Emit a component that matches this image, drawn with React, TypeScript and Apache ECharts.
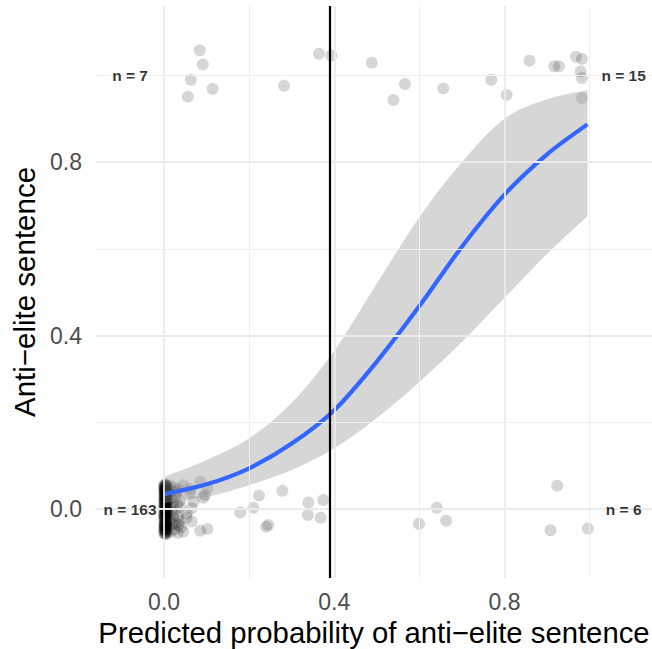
import React, { useEffect, useRef } from "react";
import * as echarts from "echarts";

// ---- data ----
const xTickValues = [0, 0.4, 0.8];
const yTickValues = [0, 0.4, 0.8];
const xMajorGrid = [0, 0.4, 0.8];
const xMinorGrid = [0.2, 0.6, 1.0];
const yMajorGrid = [0, 0.4, 0.8];
const yMinorGrid = [0.2, 0.6, 1.0];

const threshold = 0.39;

const fitX = [0, 0.1, 0.2, 0.3, 0.4, 0.5, 0.6, 0.7, 0.8, 0.9, 0.995];
const fitY = [0.034, 0.057, 0.094, 0.151, 0.228, 0.34, 0.468, 0.605, 0.725, 0.818, 0.887];
const fitUpper = [0.074, 0.113, 0.163, 0.245, 0.365, 0.52, 0.673, 0.8, 0.9, 0.945, 0.966];
const fitLower = [0.014, 0.028, 0.055, 0.09, 0.14, 0.21, 0.293, 0.385, 0.487, 0.588, 0.675];

// jittered observations: anti-elite = 1, predicted < threshold
const topLeft = [
  [0.084, 1.058], [0.091, 1.025], [0.063, 0.99], [0.114, 0.969], [0.056, 0.951],
  [0.282, 0.976], [0.364, 1.05],
];
// anti-elite = 1, predicted >= threshold
const topRight = [
  [0.393, 1.046], [0.488, 1.029], [0.566, 0.98], [0.539, 0.943], [0.656, 0.97],
  [0.769, 0.99], [0.805, 0.955], [0.859, 1.034], [0.917, 1.021], [0.928, 1.021],
  [0.968, 1.043], [0.982, 1.038], [0.979, 1.009], [0.982, 0.994], [0.982, 0.948],
];
// anti-elite = 0, predicted >= threshold
const bottomRight = [
  [0.641, 0.003], [0.599, -0.034], [0.663, -0.027], [0.924, 0.054], [0.908, -0.049], [0.996, -0.045],
];
// anti-elite = 0, predicted < threshold: dense cluster at ~0
const bottomLeftCore = [
  [0.001, 0.051], [0.002, 0.032], [0.001, 0.012], [0.0, -0.008], [0.002, -0.027], [0.001, -0.046],
  [0.003, 0.043], [0.003, 0.021], [0.002, 0.002], [0.003, -0.018], [0.002, -0.037], [0.004, -0.055],
  [0.004, 0.056], [0.003, 0.038], [0.004, 0.017], [0.004, -0.004], [0.003, -0.022], [0.004, -0.041],
  [0.005, 0.047], [0.005, 0.027], [0.005, 0.008], [0.005, -0.013], [0.005, -0.031], [0.005, -0.051],
  [0.0, 0.025], [0.001, -0.017], [0.002, 0.057], [0.002, -0.058], [0.001, 0.04], [0.0, -0.035],
  [0.002, 0.008], [0.002, -0.006], [0.003, 0.029], [0.003, -0.03], [0.003, -0.045], [0.004, 0.05],
  [0.006, 0.036], [0.006, 0.015], [0.006, -0.006], [0.006, -0.025], [0.006, -0.044], [0.006, 0.054],
  [0.0, 0.004], [0.001, -0.015], [0.0, -0.056], [0.001, 0.041], [0.001, 0.022], [0.001, -0.035],
  [0.002, 0.018], [0.001, -0.052], [0.002, 0.03], [0.0, 0.046], [0.003, 0.011], [0.003, 0.047],
  [0.004, -0.015], [0.004, -0.025], [0.004, 0.033], [0.005, -0.058], [0.004, 0.001], [0.005, 0.023],
  [0.0, 0.014], [0.0, -0.048], [0.001, 0.049], [0.001, 0.03], [0.001, -0.021], [0.002, 0.044],
  [0.002, -0.038], [0.002, -0.003], [0.003, 0.055], [0.003, -0.054], [0.003, 0.002], [0.003, -0.01],
  [0.004, 0.008], [0.004, -0.048], [0.005, 0.04], [0.005, 0.014], [0.005, -0.02], [0.005, -0.038],
  [0.006, 0.026], [0.006, 0.005], [0.006, -0.034], [0.006, 0.044], [0.006, -0.052], [0.006, -0.014],
  [0.0, 0.036], [0.0, -0.025], [0.0, 0.055], [0.001, 0.002], [0.001, -0.04], [0.002, 0.024],
  [0.002, -0.047], [0.002, 0.052], [0.003, -0.036], [0.003, 0.019], [0.004, 0.042], [0.004, -0.033],
  [0.001, 0.018], [0.002, -0.012], [0.003, 0.035], [0.004, 0.026], [0.005, -0.006], [0.005, 0.052],
  [0.0, -0.015], [0.001, 0.008], [0.002, 0.039], [0.003, -0.043], [0.004, -0.007], [0.005, 0.031],
  // fringe to the right of the core
  [0.009, 0.047], [0.01, 0.02], [0.009, -0.012], [0.011, -0.04], [0.012, 0.033], [0.013, -0.026],
  [0.014, 0.054], [0.015, 0.006], [0.016, -0.052], [0.017, 0.024], [0.018, -0.008], [0.019, 0.042],
  [0.02, -0.035], [0.021, 0.012], [0.022, -0.018], [0.023, 0.05], [0.024, -0.047], [0.026, 0.028],
  [0.027, -0.003], [0.028, -0.032], [0.029, 0.038], [0.031, 0.01], [0.032, -0.055], [0.033, -0.017],
  [0.035, 0.045], [0.036, -0.028], [0.038, 0.02], [0.04, -0.042],
];
const bottomLeftMid = [
  [0.085, 0.063], [0.045, 0.055], [0.061, 0.038], [0.096, 0.032], [0.069, 0.017], [0.065, 0.002],
  [0.053, -0.01], [0.061, 0.046], [0.102, 0.048], [0.092, 0.026], [0.053, -0.02], [0.065, -0.029],
  [0.045, -0.052], [0.034, -0.037], [0.038, 0.005], [0.085, -0.05], [0.102, -0.046],
];
const bottomLeftSparse = [
  [0.179, -0.008], [0.21, 0.003], [0.223, 0.031], [0.278, 0.042], [0.24, -0.041],
  [0.245, -0.037], [0.339, 0.015], [0.374, 0.021], [0.338, -0.014], [0.368, -0.02],
];

const countLabels = ["n = 7", "n = 15", "n = 163", "n = 6"];
const countX = [-0.08, 1.08, -0.08, 1.08];
const countY = [1, 1, 0, 0];

const FONT = "'Liberation Sans', Arial, Helvetica, sans-serif";

// Catmull-Rom spline through already-projected pixel points (rendering only)
function splineTo(ctx: any, pts: number[][]) {
  const n = pts.length;
  for (let i = 0; i < n - 1; i++) {
    const p0 = pts[Math.max(i - 1, 0)];
    const p1 = pts[i];
    const p2 = pts[i + 1];
    const p3 = pts[Math.min(i + 2, n - 1)];
    const c1x = p1[0] + (p2[0] - p0[0]) / 6;
    const c1y = p1[1] + (p2[1] - p0[1]) / 6;
    const c2x = p2[0] - (p3[0] - p1[0]) / 6;
    const c2y = p2[1] - (p3[1] - p1[1]) / 6;
    ctx.bezierCurveTo(c1x, c1y, c2x, c2y, p2[0], p2[1]);
  }
}

let shapesRegistered = false;
function registerShapes() {
  if (shapesRegistered) return;
  shapesRegistered = true;
  const Band = (echarts.graphic as any).extendShape({
    type: "smoothBand",
    shape: { upper: [], lower: [] },
    buildPath(ctx: any, shape: any) {
      const up = shape.upper as number[][];
      const lo = (shape.lower as number[][]).slice().reverse();
      if (!up.length || !lo.length) return;
      ctx.moveTo(up[0][0], up[0][1]);
      splineTo(ctx, up);
      ctx.lineTo(lo[0][0], lo[0][1]);
      splineTo(ctx, lo);
      ctx.closePath();
    },
  });
  const Curve = (echarts.graphic as any).extendShape({
    type: "smoothCurve",
    shape: { points: [] },
    buildPath(ctx: any, shape: any) {
      const pts = shape.points as number[][];
      if (!pts.length) return;
      ctx.moveTo(pts[0][0], pts[0][1]);
      splineTo(ctx, pts);
    },
  });
  echarts.graphic.registerShape("smoothBand", Band);
  echarts.graphic.registerShape("smoothCurve", Curve);
}

export default function App() {
  const ref = useRef<HTMLDivElement>(null);

  useEffect(() => {
    document.body.style.margin = "0";
    if (!ref.current) return;
    registerShapes();
    const chart = echarts.init(ref.current, undefined, { renderer: "svg" });

    const points = [
      ...topLeft, ...topRight, ...bottomRight,
      ...bottomLeftCore, ...bottomLeftMid, ...bottomLeftSparse,
    ];

    const majorStyle = { color: "#EBEBEB", width: 1.8, type: "solid" };
    const minorStyle = { color: "#EFEFEF", width: 1, type: "solid" };

    const gridLines = [
      ...xMajorGrid.map((v) => ({ xAxis: v, lineStyle: majorStyle })),
      ...xMinorGrid.map((v) => ({ xAxis: v, lineStyle: minorStyle })),
      ...yMajorGrid.map((v) => ({ yAxis: v, lineStyle: majorStyle })),
      ...yMinorGrid.map((v) => ({ yAxis: v, lineStyle: minorStyle })),
    ];

    const option: any = {
      animation: false,
      backgroundColor: "#FFFFFF",
      grid: {
        left: 96, right: 0, top: 6, bottom: 71,
        containLabel: false, outerBoundsMode: "none",
      },
      xAxis: {
        type: "value",
        min: -0.16,
        max: 1.1467,
        axisLine: { show: false },
        axisTick: { show: false },
        splitLine: { show: false },
        axisLabel: {
          customValues: xTickValues,
          formatter: (v: number) => v.toFixed(1),
          color: "#4D4D4D",
          fontSize: 23,
          lineHeight: 23,
          fontFamily: FONT,
          margin: 12.5,
        },
        name: "Predicted probability of anti\u2212elite sentence",
        nameLocation: "middle",
        nameGap: 37,
        nameTextStyle: { color: "#000000", fontSize: 29.3, lineHeight: 29, fontFamily: FONT },
      },
      yAxis: {
        type: "value",
        min: -0.159,
        max: 1.16,
        axisLine: { show: false },
        axisTick: { show: false },
        splitLine: { show: false },
        axisLabel: {
          customValues: yTickValues,
          formatter: (v: number) => v.toFixed(1),
          color: "#4D4D4D",
          fontSize: 23,
          fontFamily: FONT,
          margin: 14,
        },
        name: "Anti\u2212elite sentence",
        nameLocation: "middle",
        nameGap: 56,
        nameTextStyle: { color: "#000000", fontSize: 29.5, fontFamily: FONT },
      },
      series: [
        {
          name: "grid",
          type: "line",
          data: [[0, 0]],
          symbolSize: 0,
          showSymbol: false,
          lineStyle: { opacity: 0 },
          silent: true,
          z: 0,
          markLine: {
            silent: true,
            symbol: ["none", "none"],
            label: { show: false },
            animation: false,
            data: gridLines,
          },
        },
        {
          name: "points",
          type: "scatter",
          data: points,
          symbol: "circle",
          symbolSize: 12,
          itemStyle: { color: "rgba(0,0,0,0.2)", borderWidth: 0 },
          silent: true,
          z: 2,
        },
        {
          name: "band",
          type: "custom",
          data: [[0, 0]],
          silent: true,
          z: 3,
          renderItem: (_params: any, api: any) => ({
            type: "smoothBand",
            shape: {
              upper: fitX.map((x, i) => api.coord([x, fitUpper[i]])),
              lower: fitX.map((x, i) => api.coord([x, fitLower[i]])),
            },
            style: { fill: "rgba(153,153,153,0.4)", stroke: "none" },
          }),
        },
        {
          name: "fit",
          type: "custom",
          data: [[0, 0]],
          silent: true,
          z: 4,
          renderItem: (_params: any, api: any) => ({
            type: "smoothCurve",
            shape: { points: fitX.map((x, i) => api.coord([x, fitY[i]])) },
            style: { fill: "none", stroke: "#3366FF", lineWidth: 4.2, lineCap: "butt" },
          }),
        },
        {
          name: "threshold",
          type: "line",
          data: [[threshold, 0]],
          showSymbol: false,
          symbolSize: 0,
          lineStyle: { opacity: 0 },
          silent: true,
          z: 5,
          markLine: {
            silent: true,
            symbol: ["none", "none"],
            label: { show: false },
            animation: false,
            lineStyle: { color: "#000000", width: 2.2, type: "solid" },
            data: [{ xAxis: threshold }],
          },
        },
        {
          name: "counts",
          type: "scatter",
          data: countLabels.map((t, i) => ({ name: t, value: [countX[i], countY[i]] })),
          symbolSize: 0,
          silent: true,
          z: 6,
          label: {
            show: true,
            position: "inside",
            formatter: (p: any) => p.name,
            color: "#000000",
            fontWeight: "bold",
            fontSize: 15.5,
            fontFamily: FONT,
          },
        },
      ],
    };

    chart.setOption(option);
    return () => chart.dispose();
  }, []);

  return <div ref={ref} style={{ width: 652, height: 649 }} />;
}
